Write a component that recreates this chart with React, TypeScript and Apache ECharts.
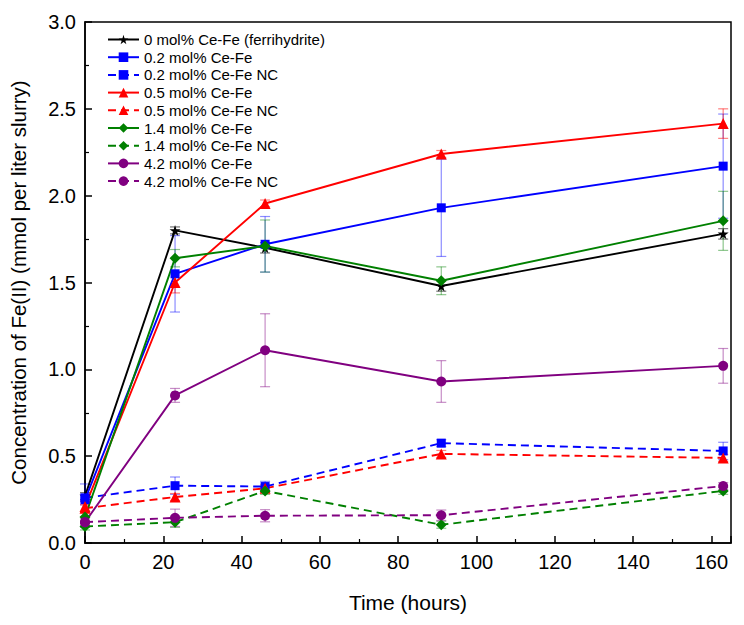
import React, { useEffect, useRef } from "react";
import * as echarts from "echarts";

const hours = [0, 23, 46, 91, 163];
const xTicks = [0, 20, 40, 60, 80, 100, 120, 140, 160];

const names = [
  "0 mol% Ce-Fe (ferrihydrite)",
  "0.2 mol% Ce-Fe",
  "0.2 mol% Ce-Fe NC",
  "0.5 mol% Ce-Fe",
  "0.5 mol% Ce-Fe NC",
  "1.4 mol% Ce-Fe",
  "1.4 mol% Ce-Fe NC",
  "4.2 mol% Ce-Fe",
  "4.2 mol% Ce-Fe NC",
];

const ce0 = [0.27, 1.8, 1.7, 1.48, 1.78];
const ce02 = [0.25, 1.55, 1.72, 1.93, 2.17];
const ce02nc = [0.26, 0.33, 0.325, 0.575, 0.53];
const ce05 = [0.21, 1.5, 1.955, 2.24, 2.415];
const ce05nc = [0.2, 0.265, 0.315, 0.513, 0.49];
const ce14 = [0.15, 1.64, 1.71, 1.51, 1.855];
const ce14nc = [0.095, 0.12, 0.3, 0.105, 0.3];
const ce42 = [0.12, 0.85, 1.11, 0.93, 1.02];
const ce42nc = [0.12, 0.145, 0.157, 0.16, 0.328];

const err0 = [0.02, 0.02, 0.03, 0.03, 0.03];
const err02 = [0.03, 0.22, 0.16, 0.28, 0.3];
const err02nc = [0.08, 0.05, 0.03, 0.02, 0.05];
const err05 = [0.03, 0.06, 0.02, 0.02, 0.085];
const err05nc = [0.02, 0.02, 0.02, 0.02, 0.02];
const err14 = [0.03, 0.05, 0.15, 0.08, 0.17];
const err14nc = [0.02, 0.03, 0.02, 0.02, 0.02];
const err42 = [0.02, 0.04, 0.21, 0.12, 0.1];
const err42nc = [0.03, 0.05, 0.035, 0.03, 0.02];

const values = [ce0, ce02, ce02nc, ce05, ce05nc, ce14, ce14nc, ce42, ce42nc];
const errors = [err0, err02, err02nc, err05, err05nc, err14, err14nc, err42, err42nc];
const colors = ["#000000", "#0000ff", "#0000ff", "#ff0000", "#ff0000", "#008000", "#008000", "#800080", "#800080"];
const errColors = [
  "rgba(0,0,0,0.55)",
  "rgba(0,0,255,0.45)",
  "rgba(0,0,255,0.45)",
  "rgba(255,0,0,0.5)",
  "rgba(255,0,0,0.5)",
  "rgba(0,128,0,0.45)",
  "rgba(0,128,0,0.45)",
  "rgba(128,0,128,0.45)",
  "rgba(128,0,128,0.45)",
];
const starPath =
  "path://M50,0 L61,35 L98,35 L68,57 L79,91 L50,70 L21,91 L32,57 L2,35 L39,35 Z";
const symbols = [starPath, "rect", "rect", "triangle", "triangle", "diamond", "diamond", "circle", "circle"];
const symbolSizes = [11, 9, 9, 11, 11, 11, 11, 10, 10];
const dashed = [false, false, true, false, true, false, true, false, true];

const FONT = "Arial, 'Liberation Sans', sans-serif";

export default function App() {
  const ref = useRef<HTMLDivElement>(null);
  useEffect(() => {
    if (!ref.current) return;
    const chart = echarts.init(ref.current, undefined, { renderer: "svg" });

    const errSeries = values.map((vals, i) => ({
      type: "custom",
      name: "err" + i,
      z: 1,
      silent: true,
      encode: { x: 0, y: [1, 2] },
      data: hours.map((h, j) => [h, vals[j] - errors[i][j], vals[j] + errors[i][j]]),
      renderItem: (params: any, api: any) => {
        const x = api.value(0);
        const top = api.coord([x, api.value(2)]);
        const bot = api.coord([x, api.value(1)]);
        const w = 5;
        const st = { stroke: errColors[i], lineWidth: 1.2 };
        return {
          type: "group",
          children: [
            { type: "line", shape: { x1: top[0], y1: top[1], x2: bot[0], y2: bot[1] }, style: st },
            { type: "line", shape: { x1: top[0] - w, y1: top[1], x2: top[0] + w, y2: top[1] }, style: st },
            { type: "line", shape: { x1: bot[0] - w, y1: bot[1], x2: bot[0] + w, y2: bot[1] }, style: st },
          ],
        };
      },
    }));

    const lineSeries = values.map((vals, i) => ({
      type: "line",
      name: names[i],
      z: 3,
      data: hours.map((h, j) => [h, vals[j]]),
      symbol: symbols[i],
      symbolSize: symbolSizes[i],
      showAllSymbol: true,
      itemStyle: { color: colors[i] },
      lineStyle: { color: colors[i], width: 1.9, type: dashed[i] ? [8, 5] : "solid" },
    }));

    chart.setOption({
      animation: false,
      backgroundColor: "#ffffff",
      textStyle: { fontFamily: FONT },
      grid: {
        left: 85,
        right: 13,
        top: 22,
        bottom: 82,
        show: true,
        borderColor: "#000",
        borderWidth: 1.5,
        backgroundColor: "transparent",
      },
      legend: {
        data: names,
        orient: "vertical",
        left: 102,
        top: 27,
        itemWidth: 31,
        itemHeight: 12,
        itemGap: 2.7,
        textStyle: { fontSize: 15, color: "#000", fontFamily: FONT },
        backgroundColor: "transparent",
      },
      xAxis: {
        type: "value",
        min: 0,
        max: 165,
        interval: 20,
        name: "Time (hours)",
        nameLocation: "middle",
        nameGap: 49,
        nameTextStyle: { fontSize: 21, color: "#000", fontFamily: FONT },
        axisLine: { show: true, lineStyle: { color: "#000", width: 1.5 } },
        axisTick: { show: true, inside: true, length: 7, lineStyle: { color: "#000", width: 1.5 } },
        minorTick: { show: true, splitNumber: 2, length: 4, lineStyle: { color: "#000", width: 1.2 } },
        splitLine: { show: false },
        axisLabel: {
          fontSize: 20,
          color: "#000",
          margin: 9,
          fontFamily: FONT,
          showMaxLabel: false,
          formatter: (v: number) => (xTicks.indexOf(v) >= 0 ? String(v) : ""),
        },
      },
      yAxis: {
        type: "value",
        min: 0,
        max: 3,
        interval: 0.5,
        name: "Concentration of Fe(II) (mmol per liter slurry)",
        nameLocation: "middle",
        nameGap: 56,
        nameTextStyle: { fontSize: 20.5, color: "#000", fontFamily: FONT },
        axisLine: { show: true, lineStyle: { color: "#000", width: 1.5 } },
        axisTick: { show: true, inside: true, length: 7, lineStyle: { color: "#000", width: 1.5 } },
        minorTick: { show: true, splitNumber: 2, length: 4, lineStyle: { color: "#000", width: 1.2 } },
        splitLine: { show: false },
        axisLabel: {
          fontSize: 20,
          color: "#000",
          margin: 9,
          fontFamily: FONT,
          formatter: (v: number) => v.toFixed(1),
        },
      },
      series: [...errSeries, ...lineSeries],
    });
    return () => chart.dispose();
  }, []);
  return <div ref={ref} style={{ width: 744, height: 625, position: "absolute", left: 0, top: 0 }} />;
}
